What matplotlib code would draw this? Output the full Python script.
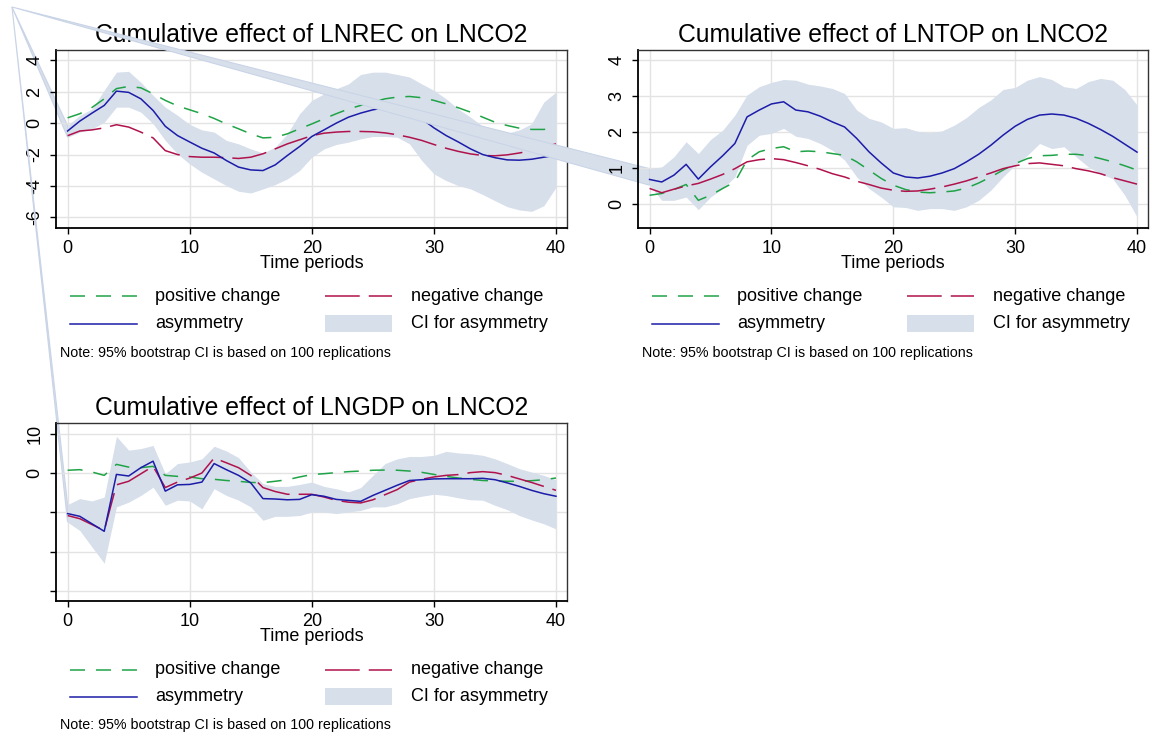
"""Cumulative dynamic multipliers (NARDL) for LNREC, LNTOP and LNGDP on LNCO2."""

import matplotlib
matplotlib.use("Agg")
import matplotlib.pyplot as plt  # noqa: E402
from matplotlib.lines import Line2D  # noqa: E402
from matplotlib.patches import Polygon, Rectangle  # noqa: E402
import numpy as np  # noqa: E402

plt.rcParams["font.family"] = ["Liberation Sans", "DejaVu Sans"]
plt.rcParams["lines.scale_dashes"] = False

W, H = 1152, 738
GREEN = "#1fa346"
RED = "#b0124c"
BLUE = "#1c1ca8"
CI = "#d7dfeb"
GRID = "#e3e3e3"

periods = np.arange(41)

# --- LNREC ---
rec_pos = [0.34, 0.6, 1.0, 1.55, 2.2, 2.34, 2.25, 1.87, 1.45, 1.1, 0.85, 0.6, 0.3, -0.05,
           -0.36, -0.68, -0.94, -0.9, -0.68, -0.36, -0.05, 0.28, 0.6, 0.9, 1.13, 1.34, 1.55,
           1.66, 1.7, 1.62, 1.45, 1.23, 0.98, 0.7, 0.38, 0.06, -0.15, -0.32, -0.4, -0.4, -0.34]
rec_neg = [-0.8, -0.5, -0.43, -0.3, -0.1, -0.25, -0.57, -0.94, -1.75, -2.0, -2.13, -2.17,
           -2.17, -2.2, -2.25, -2.17, -1.95, -1.64, -1.32, -1.06, -0.8, -0.64, -0.57, -0.53,
           -0.53, -0.55, -0.62, -0.74, -0.9, -1.1, -1.36, -1.6, -1.8, -1.96, -2.06, -2.08,
           -2.02, -1.9, -1.75, -1.53, -1.32]
rec_asym = [-0.5, 0.13, 0.64, 1.13, 2.04, 1.96, 1.55, 0.81, -0.2, -0.79, -1.2, -1.6, -1.9,
            -2.38, -2.8, -2.98, -3.02, -2.66, -2.06, -1.49, -0.85, -0.43, 0.0, 0.38, 0.64,
            0.85, 0.98, 0.9, 0.7, 0.28, -0.3, -0.79, -1.2, -1.64, -2.0, -2.2, -2.34, -2.36,
            -2.3, -2.17, -2.05]
rec_hi = [-0.15, 0.5, 0.9, 2.1, 3.25, 3.3, 2.6, 1.77, 1.02, 0.5, -0.08, -0.43, -0.57, -1.1,
          -1.32, -1.64, -1.9, -1.53, -0.68, 0.6, 1.45, 1.87, 2.19, 2.5, 3.1, 3.25, 3.25, 3.1,
          2.94, 2.5, 2.09, 1.55, 0.9, 0.38, -0.2, -0.5, -0.64, -0.43, -0.04, 1.34, 1.98]
rec_lo = [-0.9, -0.57, -0.36, 0.06, 1.02, 1.02, 0.7, -0.04, -1.1, -1.96, -2.6, -3.13, -3.55,
          -3.98, -4.34, -4.45, -4.19, -3.91, -3.55, -3.02, -2.17, -1.64, -1.36, -1.21, -1.0,
          -0.85, -0.85, -0.9, -1.32, -2.38, -3.23, -3.66, -3.98, -4.19, -4.55, -4.94, -5.32,
          -5.53, -5.62, -5.26, -4.09]

# --- LNTOP ---
top_pos = [0.25, 0.3, 0.41, 0.55, 0.11, 0.25, 0.44, 0.62, 1.23, 1.46, 1.55, 1.6, 1.46, 1.48,
           1.46, 1.41, 1.36, 1.18, 0.95, 0.72, 0.53, 0.41, 0.34, 0.32, 0.34, 0.37, 0.45, 0.59,
           0.76, 0.95, 1.13, 1.27, 1.35, 1.36, 1.39, 1.39, 1.35, 1.27, 1.18, 1.07, 0.95]
top_neg = [0.44, 0.32, 0.42, 0.51, 0.58, 0.7, 0.83, 0.99, 1.18, 1.24, 1.27, 1.24, 1.16, 1.07,
           0.97, 0.85, 0.76, 0.64, 0.55, 0.45, 0.39, 0.36, 0.37, 0.42, 0.48, 0.56, 0.65, 0.76,
           0.87, 0.99, 1.07, 1.13, 1.15, 1.11, 1.07, 0.99, 0.93, 0.85, 0.74, 0.65, 0.56]
top_asym = [0.69, 0.62, 0.81, 1.11, 0.7, 1.04, 1.35, 1.69, 2.43, 2.62, 2.79, 2.85, 2.62, 2.57,
            2.45, 2.29, 2.15, 1.83, 1.46, 1.15, 0.87, 0.76, 0.73, 0.78, 0.87, 0.99, 1.18, 1.39,
            1.64, 1.92, 2.17, 2.36, 2.48, 2.51, 2.48, 2.39, 2.25, 2.08, 1.89, 1.67, 1.45]
top_hi = [0.99, 1.04, 1.32, 1.74, 1.41, 1.8, 2.06, 2.48, 3.04, 3.27, 3.39, 3.47, 3.45, 3.34,
          3.29, 3.22, 3.08, 2.62, 2.39, 2.29, 2.11, 2.13, 2.03, 1.99, 2.04, 2.2, 2.41, 2.69,
          2.9, 3.19, 3.25, 3.45, 3.55, 3.47, 3.27, 3.22, 3.41, 3.5, 3.45, 3.19, 2.76]
top_lo = [0.53, 0.11, 0.11, 0.2, -0.15, 0.2, 0.44, 0.76, 1.64, 1.92, 1.97, 2.11, 1.89, 1.83,
          1.69, 1.5, 1.23, 0.76, 0.44, 0.2, -0.07, -0.09, -0.17, -0.12, -0.12, -0.17, -0.07,
          0.11, 0.39, 0.76, 1.09, 1.36, 1.69, 1.55, 1.6, 1.32, 1.04, 0.85, 0.71, 0.25, -0.35]

# --- LNGDP ---
gdp_pos = [0.7, 0.85, 0.25, -0.6, 2.2, 1.5, 1.35, 1.7, -0.6, -0.85, -1.0, -1.45, -1.6, -1.9,
           -2.1, -2.4, -2.45, -2.1, -1.7, -1.0, -0.4, -0.17, 0.1, 0.35, 0.5, 0.7, 0.75, 0.7,
           0.5, 0.17, -0.35, -0.85, -1.27, -1.6, -1.9, -2.0, -2.1, -2.1, -1.95, -1.7, -1.27]
gdp_neg = [-10.8, -11.6, -13.1, -14.6, -3.0, -2.1, -0.2, 1.7, -3.7, -2.3, -1.3, 0.0, 3.8, 2.6,
           1.35, -0.6, -3.7, -4.7, -5.4, -5.4, -5.4, -6.1, -6.95, -7.4, -7.6, -6.8, -5.5, -4.2,
           -2.3, -1.6, -1.0, -0.6, -0.4, 0.1, 0.35, 0.1, -0.6, -1.5, -2.4, -3.4, -4.4]
gdp_asym = [-10.3, -11.0, -12.9, -14.8, -0.35, -0.76, 1.35, 3.0, -4.6, -3.0, -2.9, -2.3, 2.4,
            0.85, -0.6, -2.5, -6.5, -6.6, -6.8, -6.7, -5.5, -5.9, -6.7, -6.95, -7.2, -5.7,
            -4.4, -3.1, -1.9, -1.7, -1.5, -1.45, -1.45, -1.45, -1.35, -1.7, -2.5, -3.4, -4.4,
            -5.25, -5.9]
gdp_hi = [-8.0, -6.5, -7.1, -6.1, 9.3, 5.8, 6.2, 7.0, -0.2, 2.4, 2.8, 3.6, 6.8, 5.6, 3.9,
          0.25, -2.7, -3.4, -3.4, -2.9, -2.3, -3.4, -4.0, -4.8, -3.7, -0.6, 2.4, 3.6, 4.2, 4.2,
          4.5, 5.5, 5.1, 4.9, 4.5, 3.6, 2.4, 1.1, 0.25, -0.6, -1.7]
gdp_lo = [-12.5, -14.6, -18.8, -22.9, -8.6, -7.4, -5.7, -3.6, -8.2, -6.9, -7.1, -9.1, -4.0,
          -5.7, -6.9, -8.6, -12.0, -11.0, -11.0, -10.8, -9.9, -9.9, -10.3, -9.9, -9.5, -8.6,
          -8.6, -7.8, -6.5, -5.9, -5.4, -5.7, -6.3, -6.8, -6.9, -8.2, -9.3, -10.8, -11.9,
          -12.9, -14.2]

PANELS = [
    ("LNREC", rec_pos, rec_neg, rec_asym, rec_hi, rec_lo),
    ("LNTOP", top_pos, top_neg, top_asym, top_hi, top_lo),
    ("LNGDP", gdp_pos, gdp_neg, gdp_asym, gdp_hi, gdp_lo),
]
YTICKS = [[4, 2, 0, -2, -4, -6], [4, 3, 2, 1, 0], [10, 0, -10, -20, -30]]
YLABELS = [["4", "2", "0", "-2", "-4", "-6"], ["4", "3", "2", "1", "0"],
           ["10", "0", "", "", ""]]
YLIMS = [(-6.68, 4.66), (-0.66, 4.29), (-32.5, 12.7)]
# (left, top, right, bottom) in pixels
BOXES = [(56, 50, 567, 228), (638, 50, 1148, 228), (56, 423, 567, 601)]

POS_DASH = (0, (10.8, 7.9))
NEG_DASH = (0, (25, 6.5))


def frac(x, y):
    return x / W, 1 - y / H


def draw_legend(fig, left, bottom):
    y1, y2 = bottom + 68.5, bottom + 95.5
    kw = dict(transform=fig.transFigure, lw=1.1)
    for (x0, x1, y, color, ls) in [(left + 14, left + 81, y1, GREEN, POS_DASH),
                                   (left + 14, left + 81, y2, BLUE, "-"),
                                   (left + 269, left + 336, y1, RED, NEG_DASH)]:
        (fx0, fy), (fx1, _) = frac(x0, y), frac(x1, y)
        fig.add_artist(Line2D([fx0, fx1], [fy, fy], color=color, ls=ls, **kw))
    rx, ry = frac(left + 269, y2 + 8.5)
    fig.add_artist(Rectangle((rx, ry), 67 / W, 17 / H, transform=fig.transFigure,
                             facecolor=CI, edgecolor="none"))
    for x, y, s in [(left + 99, y1, "positive change"), (left + 355, y1, "negative change"),
                    (left + 99, y2, "asymmetry"), (left + 355, y2, "CI for asymmetry")]:
        fig.text(*frac(x, y), s, fontsize=13, va="center", ha="left")
    fig.text(*frac(left + 4, bottom + 124.5),
             "Note: 95% bootstrap CI is based on 100 replications", fontsize=10.3,
             va="center", ha="left")


fig = plt.figure(figsize=(W / 100, H / 100), dpi=100)
axes = []
for i, (name, pos, neg, asym, hi, lo) in enumerate(PANELS):
    l, t, r, b = BOXES[i]
    ax = fig.add_axes([l / W, 1 - b / H, (r - l) / W, (b - t) / H])
    ax.fill_between(periods, lo, hi, color=CI, lw=0, zorder=1)
    ax.plot(periods, pos, color=GREEN, lw=1.1, ls=POS_DASH, zorder=3)
    ax.plot(periods, neg, color=RED, lw=1.1, ls=NEG_DASH, zorder=3)
    ax.plot(periods, asym, color=BLUE, lw=1.1, zorder=4)
    ax.set_xlim(-0.95, 40.9)
    ax.set_ylim(*YLIMS[i])
    ax.set_xticks([0, 10, 20, 30, 40])
    ax.set_yticks(YTICKS[i])
    ax.set_yticklabels(YLABELS[i], rotation=90, va="center")
    ax.tick_params(direction="out", length=4.5, width=1, labelsize=13)
    ax.tick_params(axis="x", pad=4)
    ax.tick_params(axis="y", pad=4.5)
    ax.grid(True, color=GRID, lw=1.0)
    ax.set_axisbelow(True)
    for side in ["left", "bottom"]:
        ax.spines[side].set_linewidth(1.3)
    for side in ["top", "right"]:
        ax.spines[side].set_linewidth(1.0)
        ax.spines[side].set_color("#333333")
    ax.set_xlabel("Time periods", fontsize=13, labelpad=-1.5)
    ax.set_title(f"Cumulative effect of {name} on LNCO2", fontsize=17.8, pad=5.5)
    draw_legend(fig, l, b)
    axes.append((ax, hi, lo))

# each CI polygon carries a stray vertex at the top-left corner of the page;
# it sits under the panel's own axis labels but over the earlier panels
corner = frac(12, 7)
to_fig = fig.transFigure.inverted()
for ax, hi, lo in axes:
    p_hi = to_fig.transform(ax.transData.transform((periods[0], hi[0])))
    p_lo = to_fig.transform(ax.transData.transform((periods[0], lo[0])))
    ax.add_artist(Polygon([corner, p_hi, p_lo], closed=True, transform=fig.transFigure,
                          facecolor=CI, edgecolor="#c9d4e6", lw=0.8, zorder=0.3,
                          clip_on=False))
    ax.yaxis.set_zorder(0.6)

fig.savefig("out.png", dpi=100)
plt.close()
